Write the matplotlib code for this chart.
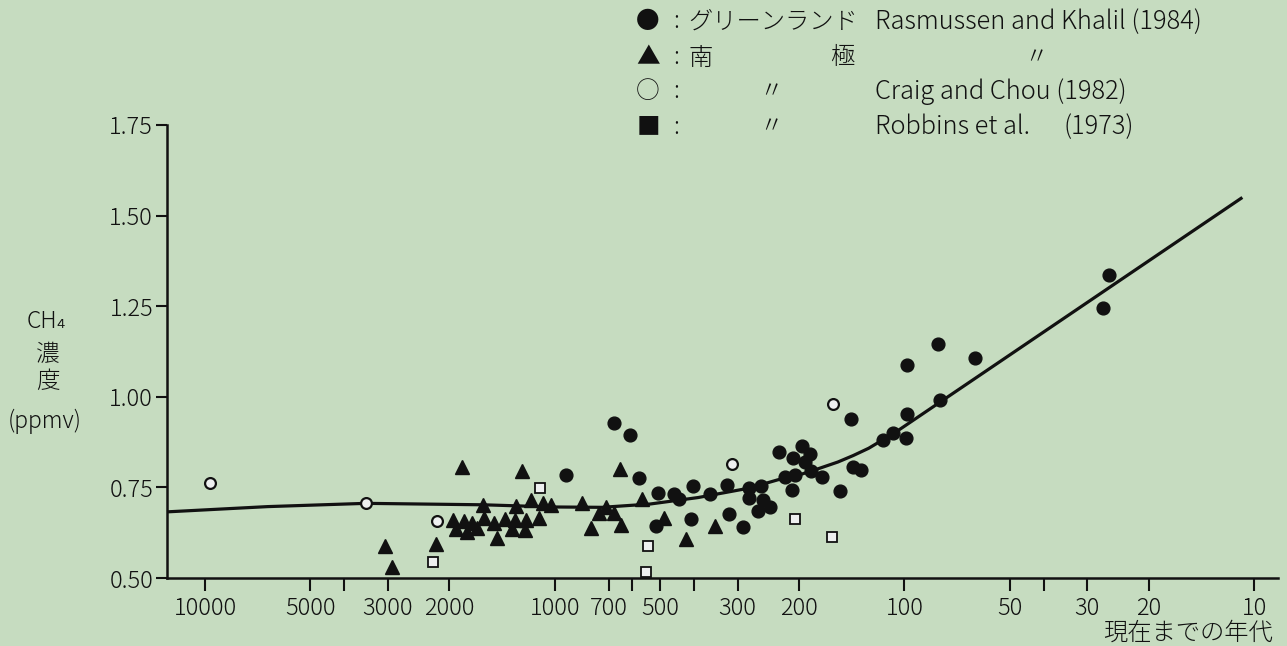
import matplotlib
matplotlib.use("Agg")
import matplotlib.pyplot as plt
from matplotlib.ticker import NullLocator, FixedLocator

plt.rcParams['font.family'] = ['Noto Sans CJK JP', 'DejaVu Sans']
plt.rcParams['font.weight'] = 'light'

# ---------------- data (years before present, CH4 ppmv) ----------------
greenland_x = [929, 675, 611, 575, 506, 456, 442, 514, 403, 408, 359, 321, 318,
               290, 279, 278, 257, 254, 262, 242, 228, 208, 219, 205, 210, 196,
               186, 192, 185, 172, 153, 142, 140, 133, 115, 108, 99, 98, 98,
               80, 79, 63, 27, 26]
greenland_y = [0.785, 0.929, 0.895, 0.777, 0.734, 0.732, 0.717, 0.644, 0.754,
               0.662, 0.732, 0.757, 0.677, 0.642, 0.748, 0.720, 0.754, 0.715,
               0.685, 0.695, 0.849, 0.832, 0.780, 0.785, 0.743, 0.863, 0.843,
               0.819, 0.794, 0.780, 0.741, 0.939, 0.805, 0.798, 0.881, 0.901,
               0.886, 0.953, 1.089, 1.146, 0.990, 1.107, 1.245, 1.335]

antarctic_x = [3048, 2918, 2192, 1842, 1238, 1950, 1815, 1719, 1594, 1602, 1494,
               1391, 1298, 1209, 1289, 1166, 1082, 1024, 1109, 1915, 1783, 1665,
               1462, 1327, 1216, 834, 785, 749, 713, 678, 645, 651, 563, 487,
               420, 347]
antarctic_y = [0.588, 0.530, 0.594, 0.807, 0.796, 0.660, 0.656, 0.653, 0.665,
               0.702, 0.651, 0.663, 0.660, 0.660, 0.699, 0.715, 0.706, 0.702,
               0.665, 0.635, 0.628, 0.637, 0.610, 0.635, 0.633, 0.706, 0.637,
               0.679, 0.697, 0.679, 0.646, 0.801, 0.717, 0.665, 0.607, 0.644]

craig_x = [9690, 3467, 2167, 311, 160]
craig_y = [0.762, 0.706, 0.658, 0.815, 0.981]

robbins_x = [2228, 1104, 541, 549, 205, 161]
robbins_y = [0.543, 0.748, 0.588, 0.517, 0.662, 0.612]

# fitted curve
curve_x = [13150, 6620, 3467, 2356, 1600, 1014, 733, 535, 389, 278, 230, 202,
           177, 155, 140, 126.5, 114.5, 103.5, 53.7, 10.8]
curve_y = [0.682, 0.697, 0.706, 0.704, 0.702, 0.696, 0.695, 0.704, 0.722,
           0.748, 0.771, 0.783, 0.801, 0.820, 0.838, 0.858, 0.883, 0.909,
           1.095, 1.550]

xtick_vals = [10000, 5000, 4000, 3000, 2000, 1000, 700, 600, 500, 400, 300,
              200, 100, 50, 40, 30, 20, 10]
xtick_labels = ['10000', '5000', '', '3000', '2000', '1000', '700', '', '500',
                '', '300', '200', '100', '50', '', '30', '20', '10']
ytick_vals = [0.50, 0.75, 1.00, 1.25, 1.50, 1.75]
ytick_labels = ['0.50', '0.75', '1.00', '1.25', '1.50', '1.75']

# ---------------- figure ----------------
W, H = 1287, 646
BG = '#c6dcc0'
INK = '#111111'
fig = plt.figure(figsize=(W / 100, H / 100), dpi=100, facecolor=BG)
ax = fig.add_axes([167 / W, (H - 578) / H, (1278 - 167) / W, (578 - 125) / H])
ax.set_facecolor(BG)
ax.set_xscale('log')
ax.set_xlim(12850, 8.54)
ax.set_ylim(0.5, 1.75)

for s in ['top', 'right']:
    ax.spines[s].set_visible(False)
for s in ['left', 'bottom']:
    ax.spines[s].set_linewidth(1.8)
    ax.spines[s].set_color(INK)

ax.plot(curve_x, curve_y, color=INK, lw=2.3, zorder=2, solid_capstyle='butt',
        solid_joinstyle='round')

ax.plot(greenland_x, greenland_y, 'o', ms=9.2, color=INK, mec=INK, zorder=3,
        clip_on=False)
ax.plot(antarctic_x, antarctic_y, '^', ms=9.8, color=INK, mec=INK, zorder=3,
        clip_on=False)
ax.plot(craig_x, craig_y, 'o', ms=7.8, mfc='#eef0f0', mec=INK, mew=1.6, zorder=4,
        clip_on=False)
ax.plot(robbins_x, robbins_y, 's', ms=6.8, mfc='#eef0f0', mec=INK, mew=1.3,
        zorder=4, clip_on=False)

ax.xaxis.set_major_locator(FixedLocator(xtick_vals))
ax.xaxis.set_minor_locator(NullLocator())
ax.set_xticklabels(xtick_labels)
ax.set_yticks(ytick_vals)
ax.set_yticklabels(ytick_labels)
ax.tick_params(axis='x', direction='out', length=9, width=1.5, color=INK,
               labelsize=17, pad=4, labelcolor=INK)
ax.tick_params(axis='y', direction='out', length=8, width=1.5, color=INK,
               labelsize=17, pad=2, labelcolor=INK)


def ftext(x, y, s, size=17.5, ha='left', **kw):
    fig.text(x / W, 1 - y / H, s, fontsize=size, ha=ha, va='center',
             color=INK, **kw)


# y-axis label
ftext(46, 322, 'CH₄', size=16.5, ha='center')
ftext(48, 355, '濃', size=17, ha='center')
ftext(48, 381, '度', size=17, ha='center')
ftext(45, 421, '(ppmv)', size=16.5, ha='center')

# x-axis label
ftext(1273, 633, '現在までの年代', size=17.5, ha='right')

# legend block
rows = [22, 58, 92, 127]
syms = ['●', '▲', '○', '■']
LAT = 18.3
for yy, sym in zip(rows, syms):
    ftext(648, yy, sym, size=17, ha='center')
    ftext(676, yy, ':', size=17, ha='center')
ftext(688, rows[0], 'グリーンランド', size=17.5)
ftext(875, rows[0], 'Rasmussen and Khalil (1984)', size=LAT)
ftext(688, rows[1], '南', size=17.5)
ftext(830, rows[1], '極', size=17.5)
ftext(1036, rows[1], '〃', size=17, ha='center')
ftext(771, rows[2], '〃', size=17, ha='center')
ftext(875, rows[2], 'Craig and Chou (1982)', size=LAT)
ftext(771, rows[3], '〃', size=17, ha='center')
ftext(875, rows[3], 'Robbins et al.', size=LAT)
ftext(1063, rows[3], '(1973)', size=LAT)

fig.savefig('out.png', dpi=100, facecolor=BG)
